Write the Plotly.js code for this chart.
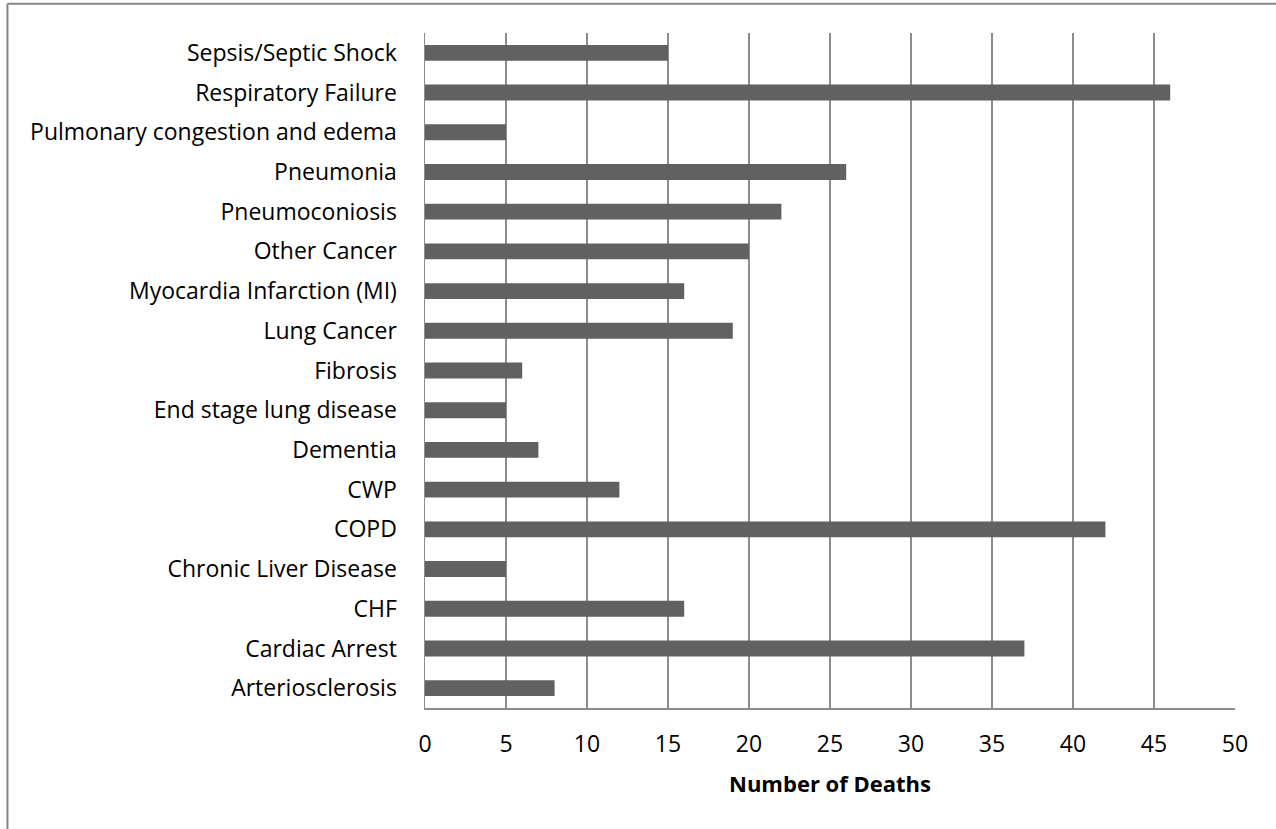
<!DOCTYPE html>
<html>
<head>
<meta charset="utf-8">
<script src="https://cdn.plot.ly/plotly-3.0.1.min.js"></script>
<style>
html,body{margin:0;padding:0;background:#fff;}
#chart{width:1276px;height:829px;}
</style>
</head>
<body>
<div id="chart"></div>
<script>
const causes = [
  "Arteriosclerosis",
  "Cardiac Arrest",
  "CHF",
  "Chronic Liver Disease",
  "COPD",
  "CWP",
  "Dementia",
  "End stage lung disease",
  "Fibrosis",
  "Lung Cancer",
  "Myocardia Infarction (MI)",
  "Other Cancer",
  "Pneumoconiosis",
  "Pneumonia",
  "Pulmonary congestion and edema",
  "Respiratory Failure",
  "Sepsis/Septic Shock"
];
const deaths = [8, 37, 16, 5, 42, 12, 7, 5, 6, 19, 16, 20, 22, 26, 5, 46, 15];
const xTicks = [0, 5, 10, 15, 20, 25, 30, 35, 40, 45, 50];
const xTitle = "Number of Deaths";

const FONT = "Open Sans, Liberation Sans, sans-serif";

const trace = {
  type: "bar",
  orientation: "h",
  y: causes,
  x: deaths,
  marker: {color: "#616161", line: {width: 0}},
  hoverinfo: "x+y"
};

const layout = {
  width: 1276,
  height: 829,
  paper_bgcolor: "#ffffff",
  plot_bgcolor: "#ffffff",
  margin: {l: 425, r: 41, t: 33, b: 121},
  bargap: 0.6,
  showlegend: false,
  font: {family: FONT, size: 23, color: "#000000"},
  xaxis: {
    range: [0, 50],
    tickvals: xTicks,
    ticktext: xTicks.map(String),
    showgrid: true,
    gridcolor: "#8c8c8c",
    gridwidth: 1.5,
    zeroline: false,
    showline: true,
    linecolor: "#8c8c8c",
    linewidth: 1.5,
    ticks: "",
    ticklabelstandoff: 15,
    tickfont: {family: FONT, size: 23, color: "#000000"},
    title: {text: "<b>" + xTitle + "</b>", font: {family: FONT, size: 22, color: "#000000"}, standoff: 18},
    fixedrange: true
  },
  yaxis: {
    type: "category",
    categoryorder: "array",
    categoryarray: causes,
    showgrid: false,
    zeroline: false,
    showline: true,
    linecolor: "#8c8c8c",
    linewidth: 1.5,
    ticks: "",
    ticklabelstandoff: 22,
    tickfont: {family: FONT, size: 23, color: "#000000"},
    fixedrange: true
  },
  shapes: [
    {type: "line", xref: "paper", yref: "paper", x0: -0.5155, x1: 2, y0: 1.0434, y1: 1.0434,
     line: {color: "#868686", width: 2}},
    {type: "line", xref: "paper", yref: "paper", x0: -0.5155, x1: -0.5155, y0: 1.0434, y1: -1,
     line: {color: "#868686", width: 2}}
  ]
};

Plotly.newPlot("chart", [trace], layout, {displayModeBar: false, staticPlot: true});
</script>
</body>
</html>
